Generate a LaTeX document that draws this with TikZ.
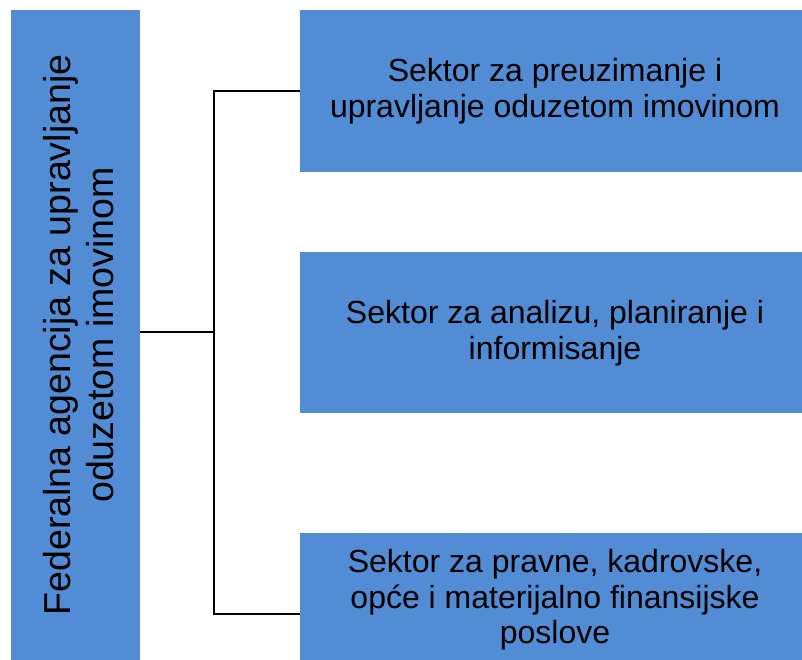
\documentclass[tikz,border=0pt]{standalone}
\usepackage{fontspec}
\setmainfont{Liberation Sans}
\definecolor{boxblue}{RGB}{82,140,213}
\begin{document}
\begin{tikzpicture}[x=1pt,y=-1pt,
  bluebox/.style={fill=boxblue, draw=none, inner sep=0pt, anchor=north west},
  boxtext/.style={align=center, text=black, font=\fontsize{32}{35.5}\selectfont, inner sep=0pt},
  conn/.style={draw=black, line width=2.2pt}]
\clip (0,0) rectangle (802,660);
\fill[white] (0,0) rectangle (802,660);
% boxes
\node[bluebox, minimum width=129pt, minimum height=690pt] (left) at (11,10) {};
\node[bluebox, minimum width=520pt, minimum height=162pt] (b1) at (300,10) {};
\node[bluebox, minimum width=520pt, minimum height=161pt] (b2) at (300,252) {};
\node[bluebox, minimum width=520pt, minimum height=162pt] (b3) at (300,533) {};
% texts
\node[boxtext, font=\fontsize{37.5}{43}\selectfont, rotate=90] (lt) at (79,335)
  {Federalna agencija za upravljanje\\oduzetom imovinom};
\node[boxtext] (t1) at (555,91) {Sektor za preuzimanje i\\upravljanje oduzetom imovinom};
\node[boxtext] (t2) at (555,333) {Sektor za analizu, planiranje i\\informisanje};
\node[boxtext] (t3) at (555,600) {Sektor za pravne, kadrovske,\\opće i materijalno finansijske\\poslove};
% connectors
\coordinate (trunk) at (214,0);
\coordinate (b1w) at (300,91);
\coordinate (b2w) at (300,332);
\coordinate (b3w) at (300,614);
\draw[conn] (b1w) -- (b1w -| trunk) -- (b3w -| trunk) -- (b3w);
\draw[conn] (left.east |- b2w) -- (b2w -| trunk);
\end{tikzpicture}
\end{document}
